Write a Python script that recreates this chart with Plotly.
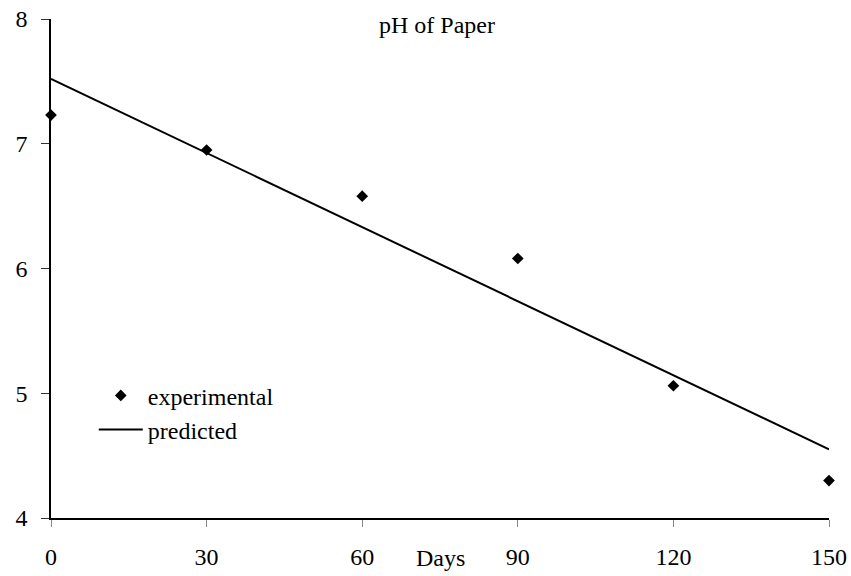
import plotly.graph_objects as go

days = [0, 30, 60, 90, 120, 150]
ph_experimental = [7.23, 6.95, 6.58, 6.08, 5.06, 4.30]
pred_days = [0, 150]
ph_predicted = [7.52, 4.55]
x_ticks = [0, 30, 60, 90, 120, 150]
y_ticks = [4, 5, 6, 7, 8]

font = "Liberation Serif, Times New Roman, serif"
fs = 24

fig = go.Figure()
fig.add_trace(go.Scatter(
    x=days, y=ph_experimental, mode="markers", name="experimental",
    marker=dict(symbol="diamond", size=9, color="black"),
    cliponaxis=False,
))
fig.add_trace(go.Scatter(
    x=pred_days, y=ph_predicted, mode="lines", name="predicted",
    line=dict(color="black", width=2),
))

fig.update_layout(
    width=851, height=576,
    margin=dict(l=51, r=22, t=19, b=58),
    paper_bgcolor="white", plot_bgcolor="white",
    font=dict(family=font, size=fs, color="black"),
    showlegend=True,
    legend=dict(
        x=0.055, y=0.29, xanchor="left", yanchor="top",
        bgcolor="rgba(0,0,0,0)", font=dict(family=font, size=fs),
        itemwidth=44, tracegroupgap=0,
    ),
    annotations=[
        dict(text="pH of Paper", x=0.496, y=1.0, xref="paper", yref="paper",
             xanchor="center", yanchor="middle", showarrow=False,
             font=dict(family=font, size=fs), yshift=-6),
        dict(text="Days", x=0.501, y=0, xref="paper", yref="paper",
             xanchor="center", yanchor="middle", showarrow=False,
             font=dict(family=font, size=fs), yshift=-40),
    ],
)
fig.update_xaxes(
    range=[0, 150], tickvals=x_ticks, ticktext=[str(v) for v in x_ticks],
    showgrid=False, zeroline=False, showline=True, linecolor="black", linewidth=1.5,
    ticks="outside", ticklen=7, tickcolor="#888", tickwidth=1,
    ticklabelstandoff=9, tickfont=dict(family=font, size=fs), automargin=False,
)
fig.update_yaxes(
    range=[4, 8], tickvals=y_ticks, ticktext=[str(v) for v in y_ticks],
    showgrid=False, zeroline=False, showline=True, linecolor="black", linewidth=1.5,
    ticks="outside", ticklen=8, tickcolor="#333", tickwidth=1,
    ticklabelstandoff=9, tickfont=dict(family=font, size=fs), automargin=False,
)

fig.write_html("out.html")
